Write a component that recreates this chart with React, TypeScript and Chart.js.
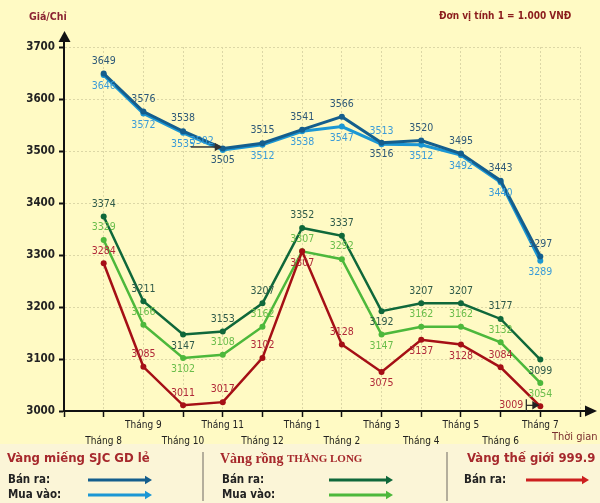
import React, { useEffect, useRef } from "react";
import { Chart, registerables } from "chart.js";

Chart.register(...registerables);

// ---------- data ----------
const months = ["Tháng 8", "Tháng 9", "Tháng 10", "Tháng 11", "Tháng 12", "Tháng 1", "Tháng 2", "Tháng 3", "Tháng 4", "Tháng 5", "Tháng 6", "Tháng 7"];
const sjcSell = [3649, 3576, 3538, 3505, 3515, 3541, 3566, 3516, 3520, 3495, 3443, 3297];
const sjcBuy = [3646, 3572, 3535, 3502, 3512, 3538, 3547, 3513, 3512, 3492, 3440, 3289];
const tlSell = [3374, 3211, 3147, 3153, 3207, 3352, 3337, 3192, 3207, 3207, 3177, 3099];
const tlBuy = [3329, 3166, 3102, 3108, 3162, 3307, 3292, 3147, 3162, 3162, 3132, 3054];
const worldSell = [3284, 3085, 3011, 3017, 3102, 3307, 3128, 3075, 3137, 3128, 3084, 3009];
const yMin = 3000;
const yMax = 3700;
const yStep = 100;

// label placement flags: a = above, b = below, L = left with underline arrow, R = left with bar arrow
const sjcSellPos = "aaabaaabaaaa";
const sjcBuyPos = "bbbLbbbabbbb";
const tlSellPos = "aabaaaabaaab";
const tlBuyPos = "aabaaaabaaab";
const worldSellPos = "aaaaababbbaR";

const COND = "'DejaVu Sans Condensed', 'DejaVu Sans', sans-serif";
const SERIF = "'Liberation Serif', 'DejaVu Serif', serif";
const CHART_BG = "#fffac4";
const LEGEND_BG = "#fbf5d7";
const GRID = "#dcd7a6";

type Series = {
  label: string;
  data: number[];
  pos: string;
  color: string;
  text: string;
  width: number;
  order: number;
};

const series: Series[] = [
  { label: "SJC Bán ra", data: sjcSell, pos: sjcSellPos, color: "#145e8d", text: "#2d5877", width: 3, order: 2 },
  { label: "SJC Mua vào", data: sjcBuy, pos: sjcBuyPos, color: "#1b97d4", text: "#3a9bd8", width: 3, order: 3 },
  { label: "Thăng Long Bán ra", data: tlSell, pos: tlSellPos, color: "#0f683a", text: "#2f5a49", width: 2.5, order: 4 },
  { label: "Thăng Long Mua vào", data: tlBuy, pos: tlBuyPos, color: "#4db83b", text: "#6abd4b", width: 2.5, order: 5 },
  { label: "Thế giới Bán ra", data: worldSell, pos: worldSellPos, color: "#a50f15", text: "#b02838", width: 2.5, order: 1 },
];

function arrow(ctx: CanvasRenderingContext2D, x1: number, x2: number, y: number, color: string, w: number, head: number) {
  ctx.save();
  ctx.strokeStyle = color;
  ctx.fillStyle = color;
  ctx.lineWidth = w;
  ctx.beginPath();
  ctx.moveTo(x1, y);
  ctx.lineTo(x2 - head + 1, y);
  ctx.stroke();
  ctx.beginPath();
  ctx.moveTo(x2, y);
  ctx.lineTo(x2 - head, y - head * 0.6);
  ctx.lineTo(x2 - head, y + head * 0.6);
  ctx.closePath();
  ctx.fill();
  ctx.restore();
}

const decor = {
  id: "decor",
  beforeDraw(chart: any) {
    const ctx: CanvasRenderingContext2D = chart.ctx;
    ctx.save();
    ctx.fillStyle = CHART_BG;
    ctx.fillRect(0, 0, chart.width, chart.height);
    ctx.fillStyle = LEGEND_BG;
    ctx.fillRect(0, 444, chart.width, chart.height - 444);
    ctx.restore();
  },
  afterDraw(chart: any) {
    const ctx: CanvasRenderingContext2D = chart.ctx;
    const ca = chart.chartArea;
    ctx.save();

    // axis extensions + arrows
    ctx.strokeStyle = "#111";
    ctx.fillStyle = "#111";
    ctx.lineWidth = 2;
    ctx.beginPath();
    ctx.moveTo(ca.left, ca.top);
    ctx.lineTo(ca.left, 40);
    ctx.stroke();
    ctx.beginPath();
    ctx.moveTo(ca.left + 0.5, 31);
    ctx.lineTo(ca.left - 5.5, 42);
    ctx.lineTo(ca.left + 6.5, 42);
    ctx.closePath();
    ctx.fill();
    ctx.beginPath();
    ctx.moveTo(ca.right, ca.bottom);
    ctx.lineTo(590, ca.bottom);
    ctx.stroke();
    ctx.beginPath();
    ctx.moveTo(597, ca.bottom);
    ctx.lineTo(585, ca.bottom - 5.5);
    ctx.lineTo(585, ca.bottom + 5.5);
    ctx.closePath();
    ctx.fill();

    // top texts
    ctx.textBaseline = "middle";
    ctx.textAlign = "left";
    ctx.fillStyle = "#8b2332";
    ctx.font = `bold 10.5px ${COND}`;
    ctx.fillText("Giá/Chỉ", 29, 17);
    ctx.fillStyle = "#8b1c1c";
    ctx.font = `bold 10px ${COND}`;
    ctx.fillText("Đơn vị tính 1 = 1.000 VNĐ", 439, 16);
    ctx.fillStyle = "#7a2e2e";
    ctx.font = `11px ${COND}`;
    ctx.fillText("Thời gian", 552, 437);

    // data labels
    ctx.font = `10.5px ${COND}`;
    series.forEach((s, d) => {
      const meta = chart.getDatasetMeta(d);
      meta.data.forEach((pt: any, i: number) => {
        const p = s.pos[i];
        const v = String(s.data[i]);
        ctx.fillStyle = s.text;
        if (p === "a") {
          ctx.textAlign = "center";
          ctx.fillText(v, pt.x, pt.y - 12.5);
        } else if (p === "b") {
          ctx.textAlign = "center";
          ctx.fillText(v, pt.x, pt.y + 11.5);
        } else if (p === "L") {
          ctx.textAlign = "right";
          ctx.fillText(v, pt.x - 9, pt.y - 9);
          arrow(ctx, pt.x - 32, pt.x - 1, pt.y - 3, "#333", 1.5, 7);
        } else if (p === "R") {
          ctx.textAlign = "right";
          ctx.fillText(v, pt.x - 17, pt.y - 1);
          ctx.strokeStyle = "#222";
          ctx.lineWidth = 1.2;
          ctx.beginPath();
          ctx.moveTo(pt.x - 14, pt.y - 7);
          ctx.lineTo(pt.x - 14, pt.y + 5);
          ctx.stroke();
          arrow(ctx, pt.x - 14, pt.x - 1, pt.y - 1, "#222", 1.2, 7);
        }
      });
    });

    // legend
    ctx.textAlign = "left";
    ctx.textBaseline = "middle";
    ctx.fillStyle = "#a6282c";
    ctx.font = `bold 13px ${COND}`;
    ctx.fillText("Vàng miếng SJC GD lẻ", 7, 459);
    ctx.fillText("Vàng thế giới 999.9", 467, 459);
    ctx.font = `bold 14px ${SERIF}`;
    ctx.fillText("Vàng rồng ", 220, 459);
    const w = ctx.measureText("Vàng rồng ").width;
    ctx.font = `bold 11px ${SERIF}`;
    ctx.fillText("THĂNG LONG", 220 + w, 459);

    ctx.fillStyle = "#222";
    ctx.font = `bold 11.5px ${COND}`;
    ctx.fillText("Bán ra:", 8, 480);
    ctx.fillText("Mua vào:", 8, 495);
    ctx.fillText("Bán ra:", 222, 480);
    ctx.fillText("Mua vào:", 222, 495);
    ctx.fillText("Bán ra:", 464, 480);

    arrow(ctx, 88, 152, 480, series[0].color, 3, 7);
    arrow(ctx, 88, 152, 495, series[1].color, 3, 7);
    arrow(ctx, 329, 393, 480, series[2].color, 3, 7);
    arrow(ctx, 329, 393, 495, series[3].color, 3, 7);
    arrow(ctx, 526, 589, 480, "#cc1f1f", 3, 7);

    ctx.strokeStyle = "#b4ae9c";
    ctx.lineWidth = 2;
    ctx.beginPath();
    ctx.moveTo(203, 452);
    ctx.lineTo(203, 501);
    ctx.moveTo(447, 452);
    ctx.lineTo(447, 501);
    ctx.stroke();

    ctx.restore();
  },
};

export default function App() {
  const ref = useRef<HTMLCanvasElement | null>(null);

  useEffect(() => {
    const canvas = ref.current;
    if (!canvas) return;
    const chart = new Chart(canvas, {
      type: "line",
      data: {
        datasets: series.map((s) => ({
          label: s.label,
          data: s.data.map((y, i) => ({ x: i, y })),
          borderColor: s.color,
          backgroundColor: s.color,
          borderWidth: s.width,
          pointRadius: 3,
          pointHoverRadius: 3,
          pointBorderWidth: 0,
          tension: 0,
          fill: false,
          order: s.order,
        })),
      },
      options: {
        animation: false,
        responsive: false,
        maintainAspectRatio: false,
        devicePixelRatio: 1,
        events: [],
        layout: { padding: { top: 47, right: 20, left: 0, bottom: 0 } },
        plugins: { legend: { display: false }, tooltip: { enabled: false } },
        scales: {
          x: {
            type: "linear",
            min: -1,
            max: months.length,
            afterFit: (s: any) => {
              s.height = 92;
            },
            ticks: {
              stepSize: 1,
              autoSkip: false,
              maxRotation: 0,
              minRotation: 0,
              padding: 0,
              color: "#222",
              font: { family: COND, size: 10, lineHeight: 1.6 },
              callback: (v: any) => {
                const i = Number(v);
                if (i < 0 || i >= months.length) return "";
                return i % 2 === 0 ? ["", months[i]] : [months[i], ""];
              },
            },
            grid: { color: GRID, lineWidth: 1, tickColor: "#111", tickLength: 6, tickWidth: 1.5 },
            border: { display: true, color: "#111", width: 2, dash: [2, 2] },
          },
          y: {
            min: yMin,
            max: yMax,
            afterFit: (s: any) => {
              s.width = 64;
            },
            ticks: {
              stepSize: yStep,
              padding: 4,
              color: "#222",
              font: { family: COND, size: 11.5, weight: "bold" },
              callback: (v: any) => String(v),
            },
            grid: { color: GRID, lineWidth: 1, tickColor: "#111", tickLength: 5, tickWidth: 2 },
            border: { display: true, color: "#111", width: 2, dash: [2, 2] },
          },
        },
      },
      plugins: [decor],
    } as any);
    return () => chart.destroy();
  }, []);

  return (
    <div style={{ position: "absolute", left: 0, top: 0, width: 600, height: 503 }}>
      <canvas ref={ref} width={600} height={503} style={{ display: "block", width: 600, height: 503 }} />
    </div>
  );
}
